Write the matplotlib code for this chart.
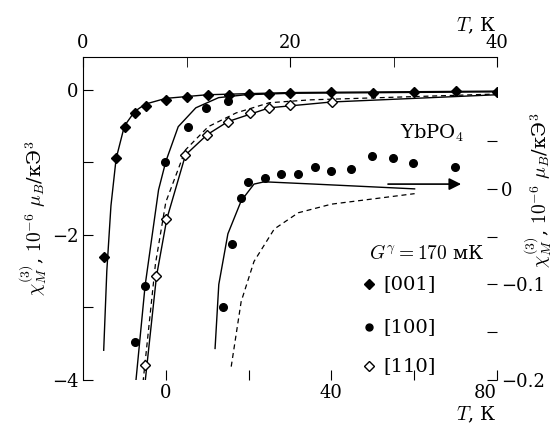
import numpy as np
import matplotlib
matplotlib.use("Agg")
from matplotlib import pyplot as plt

plt.rcParams['font.family'] = ['DejaVu Serif']
plt.rcParams['mathtext.fontset'] = 'cm'
plt.rcParams['font.size'] = 12

# main data: T (top axis, K) vs chi (left axis)
T001 = [2.04, 3.2, 4.08, 5.05, 6.1, 8.06, 10, 12.1, 14.1, 16, 18, 20, 24, 28, 32, 36, 40]
c001 = [-2.30, -0.94, -0.51, -0.32, -0.22, -0.14, -0.10, -0.08, -0.07, -0.055, -0.055, -0.04, -0.03, -0.04, -0.03, -0.015, -0.03]
T100 = [5.05, 6.0, 7.96, 10.1, 11.9, 14]
c100 = [-3.48, -2.70, -0.99, -0.51, -0.25, -0.15]
T110 = [6.0, 7.1, 8.06, 9.9, 12, 14, 16.1, 18, 20, 24.1]
c110 = [-3.79, -2.57, -1.78, -0.90, -0.62, -0.44, -0.32, -0.25, -0.21, -0.17]

# theory curves
fT001 = [2.0, 2.3, 2.7, 3.2, 4, 5, 6, 8, 12, 20, 40]
fc001 = [-3.59, -2.5, -1.6, -0.95, -0.5, -0.3, -0.2, -0.12, -0.07, -0.04, -0.02]
fT100 = [5.1, 6.0, 7.3, 8, 9.2, 10.9, 13.1, 15.7, 20, 40]
fc100 = [-4.03, -2.7, -1.38, -0.99, -0.51, -0.25, -0.11, -0.07, -0.05, -0.03]
dT = [5.8, 7, 8, 9.9, 12.1, 14.8, 18, 22, 40]
dc = [-4.03, -2.4, -1.55, -0.83, -0.51, -0.32, -0.18, -0.14, -0.06]
fT110 = [6.0, 7.1, 8.1, 9.9, 12, 14, 18, 24, 40]
fc110 = [-4.03, -2.57, -1.78, -0.90, -0.62, -0.44, -0.25, -0.17, -0.07]

# inset: T (bottom axis) vs chi (right axis), [100]
Ti = [13.8, 16, 18.2, 19.9, 24, 27.9, 32, 36.1, 40, 44.8, 49.7, 54.8, 59.6, 69.8]
ci = [-0.124, -0.058, -0.0095, 0.0074, 0.0116, 0.016, 0.016, 0.023, 0.019, 0.021, 0.034, 0.032, 0.027, 0.023]
fTi = [11.9, 12.8, 15, 18.2, 21.3, 23.8, 35.9, 60.1]
fci = [-0.167, -0.1, -0.047, -0.0126, 0.005, 0.0074, 0.005, 0.0]
dTi = [15.8, 18.2, 21.3, 26.2, 32, 40, 60.1]
dci = [-0.186, -0.118, -0.076, -0.042, -0.025, -0.016, -0.005]

ylab = r'$\chi_M^{(3)}$, $10^{-6}$ $\mu_B$/кЭ$^3$'

fig = plt.figure(figsize=(5.55, 4.36), dpi=100)
pos = [83/555, 1-380/436, 414/555, 323/436]
ax = fig.add_axes(pos)
ax2 = fig.add_axes(pos, frameon=False)

ax.plot(fT001, fc001, 'k-', lw=1)
ax.plot(fT100, fc100, 'k-', lw=1)
ax.plot(dT, dc, 'k--', lw=0.9, dashes=(4, 3))
ax.plot(fT110, fc110, 'k-', lw=1)
ax.plot(T001, c001, 'kD', ms=5.5)
ax.plot(T100, c100, 'ko', ms=5.5)
ax.plot(T110, c110, 'D', mfc='white', mec='k', ms=5.5)
ax.set_xlim(0, 40)
ax.set_ylim(-4, 0.45)
ax.xaxis.tick_top()
ax.xaxis.set_label_position('top')
ax.set_xticks([0, 20, 40])
ax.set_xticks([10, 30], minor=True)
ax.set_yticks([-4, -3, -2, -1, 0])
ax.set_yticklabels(['−4', '', '−2', '', '0'])
ax.tick_params(which='both', direction='in', length=7, labelsize=13)
ax.spines['bottom'].set_visible(False)
ax.spines['right'].set_visible(False)
ax.set_xlabel('$T$, К', fontsize=14, loc='right', labelpad=2)
ax.set_ylabel(ylab, fontsize=14, labelpad=2)

ax2.plot(fTi, fci, 'k-', lw=1)
ax2.plot(dTi, dci, 'k--', lw=0.9, dashes=(4, 3))
ax2.plot(Ti, ci, 'ko', ms=5.5)
ax2.set_xlim(-20, 80)
ax2.set_ylim(-0.2, 0.138)
ax2.yaxis.tick_right()
ax2.spines['right'].set_visible(True)
ax2.spines['bottom'].set_visible(True)
ax2.spines['bottom'].set_bounds(0, 80)
ax2.set_xticks([0, 20, 40, 60, 80])
ax2.set_xticklabels(['0', '', '40', '', '80'])
ax2.get_xticklabels()[-1].set_horizontalalignment('right')
ax2.set_yticks([-0.2, -0.15, -0.1, -0.05, 0, 0.05])
ax2.set_yticklabels(['−0.2', '', '−0.1', '', '0', ''])
ax2.tick_params(which='both', direction='in', length=7, labelsize=13, pad=3)
ax2.set_xlabel('$T$, К', fontsize=14, loc='right', labelpad=2)
fig.text(538/555, 1-190/436, ylab, fontsize=14, rotation=90, ha='center', va='center')

ax2.annotate('', xy=(72, 0.005), xytext=(53, 0.005),
             arrowprops=dict(arrowstyle='-|>', color='k', lw=1.2, mutation_scale=18))
ax2.text(72, 0.058, r'YbPO$_4$', fontsize=14, ha='right', va='center')
ax2.text(77, -0.068, r'$G^{\gamma}=170$ мК', fontsize=14, ha='right', va='center')
lx, ly = 49, [-0.1, -0.145, -0.185]
ax2.plot(lx, ly[0], 'kD', ms=5)
ax2.plot(lx, ly[1], 'ko', ms=5)
ax2.plot(lx, ly[2], 'D', mfc='white', mec='k', ms=5)
for y, s in zip(ly, ['[001]', '[100]', '[110]']):
    ax2.text(lx + 3.5, y, s, fontsize=14, va='center')

fig.savefig('out.png', dpi=100)
